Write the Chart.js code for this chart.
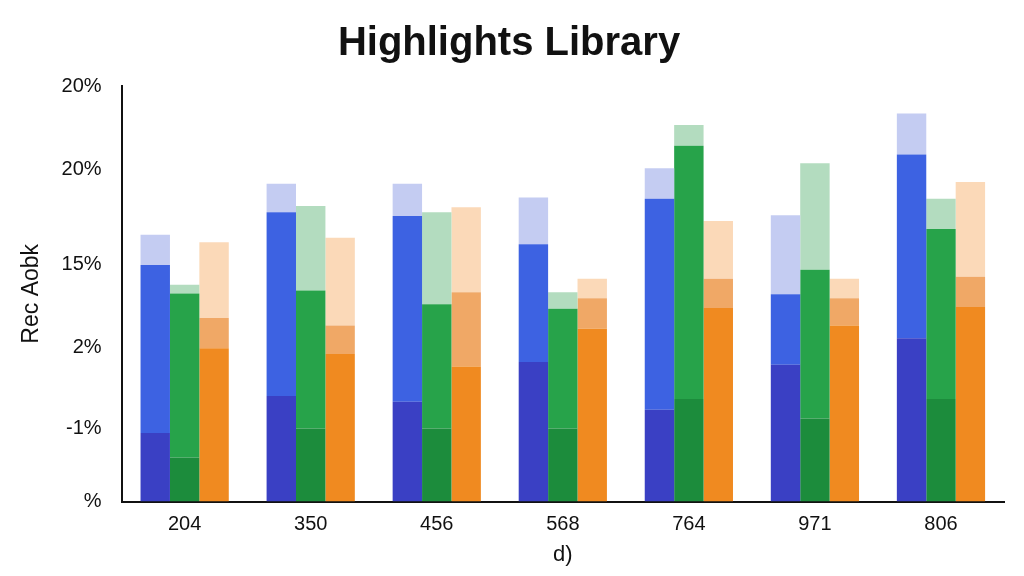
<!DOCTYPE html>
<html>
<head>
<meta charset="utf-8">
<script src="https://cdn.jsdelivr.net/npm/chart.js@4"></script>
<style>
  html, body { margin: 0; padding: 0; background: #fff; }
  #wrap { width: 1024px; height: 576px; }
</style>
</head>
<body>
<div id="wrap"><canvas id="chart"></canvas></div>
<script>
const categories = ['204', '350', '456', '568', '764', '971', '806'];

// Cumulative top of each shaded segment, in axis units (0-100)
const blueDark  = [16.5, 25.4, 24.0, 33.6, 22.1, 32.9, 39.3];
const blueMain  = [56.9, 69.6, 68.7, 61.9, 72.9, 49.9, 83.5];
const blueLight = [64.2, 76.5, 76.5, 73.2, 80.2, 68.9, 93.4];

const greenDark  = [10.6, 17.6, 17.6, 17.6, 24.7, 20.0, 24.7];
const greenMain  = [50.1, 50.8, 47.5, 46.4, 85.6, 55.8, 65.6];
const greenLight = [52.2, 71.1, 69.6, 50.4, 90.6, 81.4, 72.9];

const orangeBase  = [36.9, 35.5, 32.5, 41.6, 46.6, 42.4, 46.8];
const orangeMid   = [44.2, 42.4, 50.4, 48.9, 53.6, 48.9, 54.1];
const orangeLight = [62.4, 63.5, 70.8, 53.6, 67.5, 53.6, 76.9];

// Odd tick labels as they appear in the picture
const tickValues = [0, 17.6, 37, 57, 80, 100];
const tickLabels = ['%', '-1%', '2%', '15%', '20%', '20%'];

function segment(top, below) {
    return top.map((v, i) => below ? v - below[i] : v);
}

function ds(data, color, stack) {
    return { data, backgroundColor: color, stack, borderWidth: 0,
             categoryPercentage: 0.7, barPercentage: 1.0 };
}

new Chart(document.getElementById('chart'), {
    type: 'bar',
    data: {
        labels: categories,
        datasets: [
            ds(segment(blueDark), '#3a40c4', 'b'),
            ds(segment(blueMain, blueDark), '#3d62e2', 'b'),
            ds(segment(blueLight, blueMain), '#c4ccf2', 'b'),
            ds(segment(greenDark), '#1c8c3c', 'g'),
            ds(segment(greenMain, greenDark), '#27a34a', 'g'),
            ds(segment(greenLight, greenMain), '#b3dcbf', 'g'),
            ds(segment(orangeBase), '#f08a20', 'o'),
            ds(segment(orangeMid, orangeBase), '#f0a866', 'o'),
            ds(segment(orangeLight, orangeMid), '#fbd9b8', 'o')
        ]
    },
    options: {
        responsive: true,
        maintainAspectRatio: false,
        animation: false,
        layout: { padding: { left: 14, right: 20, top: 6, bottom: 4 } },
        plugins: {
            legend: { display: false },
            tooltip: { enabled: false },
            title: {
                display: true, text: 'Highlights Library', color: '#111',
                font: { family: 'Liberation Sans', size: 40, weight: 'bold' },
                padding: { top: 14, bottom: 18 }
            }
        },
        scales: {
            x: {
                stacked: true,
                grid: { display: false, drawTicks: true },
                border: { color: '#111', width: 2 },
                ticks: { color: '#111', font: { family: 'Liberation Sans', size: 20 } },
                title: { display: true, text: 'd)', color: '#111',
                         font: { family: 'Liberation Sans', size: 22 }, padding: { top: 2 } }
            },
            y: {
                stacked: true, min: 0, max: 100,
                afterBuildTicks: axis => { axis.ticks = tickValues.map(v => ({ value: v })); },
                grid: { display: false },
                border: { color: '#111', width: 2 },
                ticks: {
                    color: '#111', padding: 12,
                    font: { family: 'Liberation Sans', size: 20 },
                    callback: v => tickLabels[tickValues.indexOf(v)]
                },
                title: { display: true, text: 'Rec Aobk', color: '#111',
                         font: { family: 'Liberation Sans', size: 23 } }
            }
        }
    }
});
</script>
</body>
</html>
